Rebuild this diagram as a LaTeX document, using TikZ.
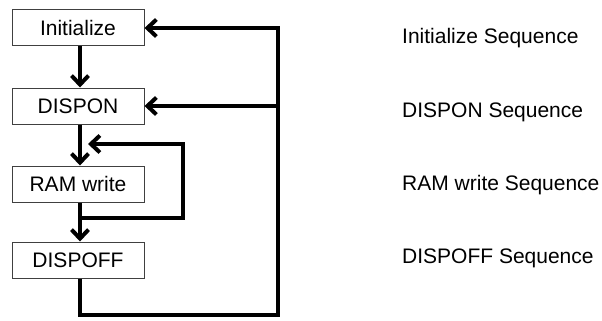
\documentclass[tikz,border=0pt]{standalone}
\usepackage{fontspec}
\setmainfont{Liberation Sans}
\usetikzlibrary{arrows.meta}

\begin{document}
\begin{tikzpicture}[x=1pt,y=-1pt,
  stage/.style={draw=black!75,line width=1pt,minimum width=132pt,minimum height=36pt,inner sep=0pt,font=\fontsize{21}{25}\selectfont},
  seq/.style={anchor=west,inner sep=0pt,font=\fontsize{21}{25}\selectfont},
  flow/.style={line width=4pt,-{Straight Barb[length=9pt,width=17pt]}}]
  \useasboundingbox (0,0) rectangle (602,321);
  \node[stage] (init) at (78,28) {Initialize};
  \node[stage] (dispon) at (78,106) {DISPON};
  \node[stage] (ramw) at (78,184) {RAM write};
  \node[stage] (dispoff) at (78,260) {DISPOFF};
  \node[seq] (initseq) at (402,38) {Initialize Sequence};
  \node[seq] (disponseq) at (402,112) {DISPON Sequence};
  \node[seq] (ramwseq) at (402,185) {RAM write Sequence};
  \node[seq] (dispoffseq) at (402,258) {DISPOFF Sequence};
  % main flow
  \draw[flow] ([xshift=2pt]init.south) -- ([xshift=2pt]dispon.north);
  \draw[flow] ([xshift=2pt]dispon.south) -- ([xshift=2pt]ramw.north);
  \draw[flow] ([xshift=2pt]ramw.south) -- ([xshift=2pt]dispoff.north);
  % RAM write loop
  \coordinate (wtap) at (80,218);
  \coordinate (wcorner) at (183,144);
  \coordinate (wret) at (88,144);
  \draw[flow] (wtap) -| (wcorner) -- (wret);
  % back loop
  \coordinate (outer) at (278,315);
  \draw[flow] ([xshift=2pt]dispoff.south) |- (outer) |- (init.east);
  \draw[flow] (outer |- dispon.east) -- (dispon.east);
\end{tikzpicture}
\end{document}
